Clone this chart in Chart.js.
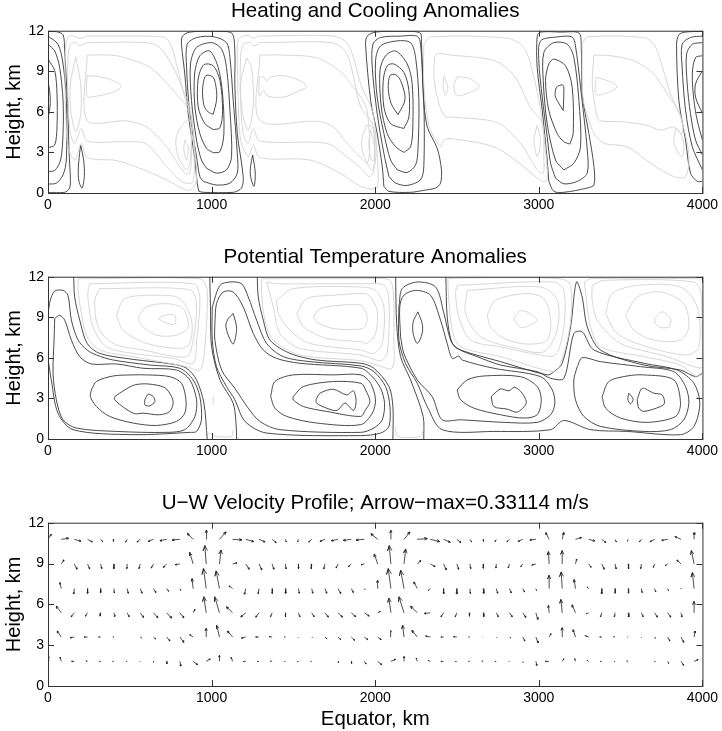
<!DOCTYPE html>
<html>
<head>
<meta charset="utf-8">
<title>Anomalies</title>
<script src="https://cdn.jsdelivr.net/npm/chart.js"></script>
<style>
  html, body { margin:0; padding:0; background:#fff; overflow:hidden; }
  #page { position:relative; width:722px; height:731px; overflow:hidden; }
  canvas { position:absolute; left:0; }
</style>
</head>
<body>
<div id="page">
  <canvas id="heat" width="722" height="224" style="top:-1px"></canvas>
  <canvas id="theta" width="722" height="224" style="top:245px"></canvas>
  <canvas id="wind" width="722" height="241" style="top:491px"></canvas>
</div>
<script>
/* contours are [x km, height km] */

const xTicks = [0, 1000, 2000, 3000, 4000];
const yTicks = [0, 3, 6, 9, 12];

// heating: dark = positive, light = negative
const heatDarkOpen = [
  [[0,.03],[102,.05],[132,.37],[137,.98],[128,3.2],[122,6.1],[112,8.3],[102,10.5],[92,11.7],[51,11.93],[0,11.95]],
  [[0,.66],[51,.73],[92,1.34],[112,2.44],[112,6.85],[92,9.54],[61,11],[0,11.6]],
  [[0,1.6],[41,1.66],[77,2.44],[92,4.4],[92,6.85],[71,9.3],[41,10.5],[0,11]],
  [[0,3.35],[41,3.55],[55,4.9],[55,7.3],[41,9.05],[0,9.9]],
  [[0,5.5],[14,6.6],[10,7.6],[0,8.2]],
  [[4000,11.95],[3897,11.9],[3856,11.7],[3842,11],[3856,6.85],[3897,3.9],[3927,1.47],[3968,.86],[4000,.86]],
  [[4000,11.6],[3927,11.5],[3876,11],[3876,9.3],[3897,6.1],[3938,3.42],[4000,1.71]],
  [[4000,11.12],[3938,11],[3903,10.27],[3907,8.07],[3927,5.87],[3958,3.91],[4000,2.81]],
  [[4000,10.15],[3958,10.02],[3938,8.8],[3948,6.85],[3968,5.38],[4000,3.91]],
  [[4000,9.05],[3958,8.07],[3958,7.09],[4000,5.87]]
];
const heatDarkLoops = [
  [[200,3.52],[218,2.44],[222,1.22],[208,.37],[189,.86],[185,1.7],[193,2.93]],
  [[922,.12],[949,.05],[1132,.05],[1183,.37],[1193,1.22],[1157,4.4],[1142,8.07],[1142,10.5],[1122,11.84],[1010,11.95],[867,11.9],[822,11.6],[816,11],[836,8.8],[857,5.87],[898,2.44],[912,.73]],
  [[949,.86],[1030,.59],[1112,.73],[1157,1.47],[1157,2.93],[1132,6.85],[1112,10.02],[1091,11.12],[1010,11.56],[908,11.49],[851,11],[847,9.29],[867,5.87],[908,2.69],[928,1.22]],
  [[969,1.83],[1030,1.47],[1091,1.71],[1122,2.69],[1112,6.11],[1091,9.29],[1061,10.64],[1000,11.12],[908,10.76],[871,9.54],[877,6.85],[908,3.91],[938,2.44]],
  [[1010,2.98],[1051,3.06],[1075,4.4],[1067,7.33],[1040,9.29],[989,10.5],[928,10.15],[896,8.8],[898,6.36],[928,4.4],[969,3.3]],
  [[1010,4.69],[1051,4.82],[1067,6.11],[1051,8.31],[1010,9.41],[953,9.49],[918,8.44],[918,6.36],[959,5.13]],
  [[1010,5.82],[1030,6.85],[1030,7.58],[1010,8.56],[965,8.68],[945,7.7],[953,6.48],[979,5.99]],
  [[1251,2.81],[1267,1.47],[1259,.49],[1238,1.22],[1238,1.96]],
  [[2053,.49],[2084,.12],[2216,.05],[2297,.2],[2369,.37],[2399,.73],[2405,1.71],[2379,3.3],[2318,4.89],[2293,7.33],[2283,11],[2273,11.84],[2155,11.95],[2002,11.9],[1951,11.6],[1941,11],[1972,6.85],[2012,4.4],[2043,1.96]],
  [[2084,1.22],[2125,.73],[2196,.56],[2277,.98],[2297,1.96],[2297,6.85],[2277,11],[2257,11.6],[2155,11.6],[2033,11.5],[1986,11],[1982,9.3],[2012,5.87],[2053,2.93]],
  [[2135,1.71],[2196,1.52],[2247,2.08],[2261,3.18],[2267,6.85],[2247,10.02],[2216,11.12],[2135,11.25],[2033,10.88],[2002,9.78],[2012,7.09],[2053,4.4],[2094,2.44]],
  [[2175,3],[2216,3.42],[2230,4.89],[2226,8.07],[2196,9.54],[2125,10.5],[2063,10.15],[2029,9.05],[2037,6.36],[2073,4.4],[2125,3.42]],
  [[2175,4.77],[2206,5.62],[2206,7.58],[2175,8.92],[2114,9.54],[2073,9.41],[2049,8.31],[2053,6.36],[2094,5.13]],
  [[2139,5.8],[2175,6.6],[2182,7.2],[2155,8.31],[2125,8.75],[2090,8.68],[2080,7.7],[2098,6.6]],
  [[3061,.86],[3092,.12],[3153,.05],[3296,.37],[3337,.61],[3337,1.96],[3306,4.4],[3265,7.33],[3259,11],[3245,11.84],[3133,11.9],[3011,11.9],[2990,11.6],[2990,9.29],[3021,6.11],[3051,2.44]],
  [[3102,1.1],[3153,.68],[3235,.86],[3296,1.47],[3296,3.18],[3255,7.82],[3224,10.88],[3204,11.54],[3112,11.54],[3011,11.25],[3000,9.78],[3021,7.09],[3051,4.16],[3072,2.2]],
  [[3153,1.71],[3214,2.2],[3255,3.42],[3245,6.85],[3214,10.02],[3174,11],[3092,11.12],[3031,10.4],[3027,8.31],[3051,5.13],[3102,2.44]],
  [[3190,3.62],[3210,4.4],[3204,7.82],[3163,9.41],[3092,9.9],[3061,9.54],[3041,8.31],[3061,6.11],[3112,4.4],[3153,3.79]],
  [[3149,6.1],[3153,7.82],[3145,8],[3108,7.82],[3100,7.2],[3118,6.72]]
];
const heatLightLoops = [
  [[239,11.61],[194,11.44],[143,11.64],[118,11.44],[106,10.5],[106,6.85],[122,3.42],[163,2.44],[204,3.67],[239,2.62],[418,2.4],[561,1.83],[724,.98],[847,.2],[887,.37],[908,.98],[898,3.18],[877,5.62],[836,7.09],[785,9.54],[745,11.12],[704,11.54]],
  [[239,11.12],[194,10.88],[169,11.12],[137,11],[122,10.02],[122,6.85],[137,4.4],[163,3.67],[204,4.77],[239,3.84],[479,3.79],[602,3.62],[724,1.96],[816,.86],[877,.73],[894,1.47],[887,4.4],[867,6.36],[836,7.33],[765,9.29],[683,10.76],[602,11.12]],
  [[239,10.2],[418,10.15],[622,9.29],[765,7.58],[857,6.11],[877,3.42],[867,1.47],[836,1.47],[724,3.42],[602,4.89],[479,5.33],[239,5.38]],
  [[239,8.68],[316,8.6],[398,8.31],[449,7.87],[398,7.46],[296,7.16],[239,7.16]],
  [[169,10.07],[200,8.07],[200,5.87],[169,4.52],[139,6.11],[137,8.07]],
  [[847,5.38],[806,4.77],[781,3.91],[796,2.69],[847,1.71],[867,2.2],[877,4.4],[867,5.38]],
  [[836,3.91],[830,3.18],[847,2.44],[857,3.42]],
  [[1285,11.61],[1255,11.44],[1224,11.64],[1193,11.61],[1163,11.34],[1157,10.24],[1163,6.85],[1177,3.91],[1224,2.69],[1255,3.55],[1295,2.62],[1600,2.44],[1785,1.47],[1913,.49],[2008,.37],[2016,1.96],[2002,4.4],[1982,6.1],[1913,8],[1867,10],[1826,11.12],[1744,11.6]],
  [[1295,11.12],[1259,10.88],[1230,11.12],[1193,11],[1177,10.02],[1177,6.85],[1193,4.4],[1224,3.67],[1255,4.77],[1295,3.84],[1703,3.67],[1826,2.69],[1913,1.83],[1961,1.22],[1988,1.47],[1996,3.42],[1982,5.13],[1911,6.36],[1867,8.6],[1826,10.3],[1744,11.1]],
  [[1295,10.2],[1438,10.2],[1642,10],[1785,9],[1867,7.82],[1940,6.5],[1961,5],[1965,3],[1950,2.2],[1913,2.6],[1826,3.7],[1744,4.9],[1642,5.3],[1295,5.38]],
  [[1214,9.98],[1244,9.29],[1255,6.6],[1224,4.65],[1189,5.87],[1177,8.07]],
  [[1291,8.56],[1291,7.16],[1316,7.58],[1346,7.16],[1438,7.09],[1540,7.58],[1581,7.87],[1540,8.31],[1438,8.68],[1367,8.6],[1336,8.31],[1316,8.6]],
  [[1972,4.65],[1996,3.42],[1992,2.44],[1976,2.44],[1961,3.67]],
  [[1947,5],[1921,4.1],[1921,3.18],[1951,2.2],[1982,1.71],[2002,2.44],[2002,3.9],[1982,4.89]],
  [[2297,11],[2338,11.54],[2807,11.44],[2909,10.76],[2970,8.56],[3011,6.11],[3041,3.18],[3051,1],[3021,.86],[2868,2.33],[2725,3.42],[2461,4.03],[2420,3.9],[2399,3.42],[2328,5],[2297,8.07]],
  [[2363,10],[2359,8.56],[2389,6.6],[2430,5.62],[2461,5.62],[2746,5.2],[2888,3.67],[2990,1.71],[3027,1.47],[3031,2.44],[3020,5.2],[2950,6.3],[2848,8.7],[2725,9.8],[2461,10.2],[2380,10.3]],
  [[2990,5],[2970,3.9],[2990,2.69],[3011,3.9]],
  [[2420,8.68],[2444,7.82],[2430,7.21],[2416,7.82]],
  [[2501,8.6],[2583,8.44],[2634,7.87],[2583,7.46],[2501,7.21],[2481,7.95]],
  [[3265,11],[3296,11.54],[3642,11.49],[3703,11],[3744,9.78],[3805,7.33],[3866,5.62],[3917,2.93],[3897,1.2],[3825,1.22],[3682,2.2],[3540,3.42],[3398,3.67],[3337,4.4],[3316,5],[3270,7]],
  [[3337,10.2],[3438,10.15],[3581,9.78],[3703,8.8],[3785,7.33],[3866,5.75],[3876,4.4],[3825,4.89],[3744,4.65],[3662,5],[3520,5.26],[3377,5.33],[3357,5.62],[3327,8]],
  [[3349,8.56],[3418,8.31],[3479,7.87],[3428,7.46],[3349,7.28]],
  [[3836,4.77],[3825,3.9],[3846,3.06],[3876,2.69],[3886,3.67],[3866,4.4]]
];

// potential temperature
const thetaDarkOpen = [
  [[157,12],[163,10.5],[194,8.79],[239,7.07],[316,6.33],[520,5.89],[765,5.53],[847,5.23],[908,4.37],[953,2.65],[973,0]],
  [[0,9.28],[14,10.26],[41,10.94],[92,10.99],[122,10.63],[143,8.79],[184,7.31],[239,6.58],[296,6.21],[398,5.84],[622,5.47],[806,5.23],[887,4.37],[928,3.14],[938,1.42],[908,.56],[867,.49],[520,.32],[153,.69],[61,1.91],[20,4.37],[0,5.96]],
  [[989,12],[993,9.77],[1000,6.82],[1051,4.37],[1132,2.65],[1149,1.18],[1153,0]],
  [[1279,12],[1285,10.5],[1316,8.79],[1357,7.31],[1479,6.33],[1642,5.84],[1913,5.6],[1992,5.23],[2084,3.88],[2108,2.4],[2108,0]],
  [[2125,12],[2131,8.54],[2155,6.09],[2216,4.37],[2293,1.67],[2297,0]],
  [[2432,12],[2440,9.03],[2471,7.07],[2522,6.58],[2766,5.72],[3051,4.74],[3092,4.98],[3143,5.6],[3194,8.29],[3230,11.61],[3265,10.5],[3296,8.29],[3377,6.58],[3642,5.47],[3866,5.1],[3958,4.61],[4000,4.86]]
];
const thetaDarkLoops = [
  [[41,8.91],[71,9.15],[102,8.79],[143,7.31],[194,6.09],[265,5.55],[418,5.55],[581,5.23],[785,5.1],[867,4.37],[908,2.9],[898,1.67],[836,.69],[724,.49],[418,.56],[173,.81],[92,1.42],[51,2.9],[31,4.86],[37,7.31]],
  [[265,3.63],[296,4.25],[398,4.66],[520,4.74],[602,4.74],[745,4.61],[816,4.12],[843,2.9],[836,1.91],[785,1.3],[663,1],[520,1.18],[377,1.67],[296,2.4],[259,3.14]],
  [[408,3.14],[469,3.63],[530,4],[612,4.07],[714,3.8],[755,3.14],[765,2.65],[745,2.04],[683,1.79],[581,1.91],[530,1.87],[469,2.28],[408,2.9]],
  [[592,2.9],[612,3.31],[643,3.14],[653,2.77],[622,2.45],[592,2.53]],
  [[1132,9.28],[1153,8.17],[1132,7.02],[1102,7.68],[1087,8.42],[1102,8.91]],
  [[1004,9.77],[1051,11.36],[1112,11.61],[1183,11.48],[1224,10.5],[1275,8.79],[1336,7.07],[1438,6.09],[1601,5.72],[1913,5.4],[1992,4.98],[2063,3.88],[2090,2.4],[2084,.93],[2033,.44],[1911,.25],[1336,.44],[1204,1.3],[1142,2.9],[1091,3.88],[1030,5.35],[1004,7.31]],
  [[1020,8.54],[1030,10.01],[1071,10.87],[1132,10.87],[1193,9.77],[1255,7.8],[1316,6.58],[1397,5.96],[1540,5.6],[1913,5.23],[1982,4.61],[2033,3.75],[2057,2.65],[2043,1.42],[1992,.81],[1911,.49],[1418,.69],[1295,1.3],[1224,2.28],[1142,3.75],[1061,5.1],[1020,7.31]],
  [[1361,3.14],[1387,4.25],[1499,4.74],[1744,4.74],[1913,4.74],[1972,4.12],[2002,2.9],[1982,1.91],[1911,1.06],[1642,1.18],[1459,1.67],[1387,2.28]],
  [[1499,3.14],[1561,3.88],[1744,4.25],[1913,4.12],[1941,3.63],[1968,2.77],[1941,2.16],[1911,1.67],[1703,2.04],[1561,2.4],[1499,2.9]],
  [[1638,2.9],[1663,3.39],[1744,3.68],[1826,3.26],[1867,3.56],[1883,2.77],[1867,2.11],[1816,2.65],[1765,2.11],[1703,2.28],[1642,2.65]],
  [[2145,9.77],[2165,11.12],[2257,11.61],[2369,11.24],[2420,9.28],[2461,7.31],[2501,6.7],[2623,6.09],[2766,5.47],[2990,4.98],[3072,4.49],[3153,4.49],[3214,7.8],[3265,7.93],[3337,6.58],[3642,5.6],[3846,5.1],[3948,4.12],[3984,2.65],[3948,.93],[3866,.32],[3540,.56],[3316,.69],[3153,1.37],[3072,.69],[2725,.56],[2409,.69],[2318,2.4],[2257,4.12],[2185,5.6],[2145,7.31]],
  [[2155,7.56],[2150,9.77],[2175,10.63],[2247,10.99],[2338,10.63],[2399,8.79],[2440,7.07],[2471,5.96],[2511,6.13],[2532,5.84],[2725,5.23],[3011,4.61],[3082,3.63],[3098,2.65],[3072,1.79],[2990,1.23],[2786,1.23],[2522,1.42],[2409,1.42],[2348,3.14],[2257,4.37],[2175,6.33]],
  [[2501,3.63],[2562,4.37],[2664,4.66],[2888,4.61],[2990,3.88],[3015,2.9],[2990,1.79],[2909,1.55],[2766,1.79],[2603,2.28],[2522,2.9]],
  [[2709,3.14],[2766,3.7],[2817,3.56],[2852,3.83],[2898,3.39],[2923,2.65],[2868,1.99],[2807,2.21],[2725,2.4]],
  [[2261,9.4],[2287,8.54],[2287,7.8],[2257,7.07],[2232,7.8],[2232,8.66]],
  [[3235,5.35],[3265,6.01],[3377,5.72],[3621,5.35],[3825,4.98],[3897,3.88],[3917,2.65],[3886,1.42],[3805,.69],[3642,.56],[3377,.93],[3275,1.67],[3224,2.9],[3214,4.37]],
  [[3387,3.14],[3428,4.25],[3540,4.66],[3642,4.74],[3825,4.37],[3866,2.65],[3836,1.67],[3662,1.23],[3499,1.55],[3408,2.28]],
  [[3601,2.9],[3632,3.75],[3703,3.39],[3754,3.26],[3768,2.65],[3744,2.4],[3642,2.04],[3611,2.28]],
  [[3550,3.39],[3577,2.94],[3560,2.6],[3544,2.94]]
];
const thetaLightOpen = [
  [[1010,3.14],[1010,2.53]],
  [[979,.44],[1030,.2],[1122,.2],[1132,.69]],
  [[2125,.93],[2135,.2],[2277,.2],[2293,.69]]
];
const thetaLightLoops = [
  [[184,11.85],[928,11.85],[973,10.99],[953,6.09],[928,5.1],[847,5.35],[520,6.09],[316,6.58],[239,7.56],[204,9.28],[184,10.99]],
  [[255,11.48],[887,11.48],[928,10.5],[908,7.31],[887,5.6],[765,5.96],[520,6.33],[357,6.82],[275,8.29],[245,10.26],[245,10.99]],
  [[316,11.12],[867,11.04],[908,10.01],[887,7.31],[847,6.09],[581,6.58],[398,7.07],[306,8.29],[286,10.26]],
  [[418,9.15],[469,10.38],[683,10.63],[806,10.38],[877,8.79],[867,7.07],[806,6.7],[602,7.07],[459,8.05]],
  [[551,9.03],[602,9.77],[724,10.01],[826,9.64],[857,8.29],[785,7.68],[663,7.68],[571,8.42]],
  [[673,8.91],[714,9.15],[775,9.15],[775,8.49],[714,8.61]],
  [[1306,11.85],[1913,11.85],[2084,11.78],[2110,10.99],[2114,7.31],[2104,5.23],[2012,5.47],[1911,5.79],[1540,6.21],[1377,7.31],[1326,8.79],[1306,10.75]],
  [[1336,11.61],[1397,11.48],[1913,11.48],[2053,11.36],[2084,10.26],[2073,6.33],[2033,5.79],[1911,6.21],[1540,6.7],[1418,7.8],[1377,9.77]],
  [[1397,10.26],[1499,11.12],[1913,11.24],[2002,10.99],[2053,9.77],[2043,7.07],[1992,6.33],[1911,6.58],[1601,7.07],[1479,8.05],[1408,9.28]],
  [[1520,9.28],[1581,10.38],[1744,10.63],[1913,10.75],[1961,10.63],[2012,9.52],[2002,7.8],[1951,7.07],[1911,7.19],[1703,7.44],[1561,8.29]],
  [[1622,9.03],[1663,9.64],[1785,9.89],[1913,9.89],[1941,9.4],[1951,8.79],[1921,8.17],[1744,8.17],[1642,8.66]],
  [[2444,11.85],[2522,11.9],[3133,11.85],[3194,11.36],[3190,8.29],[3133,5.6],[3092,4.98],[2766,6.09],[2522,6.82],[2471,8.05],[2450,10.26]],
  [[2501,11.36],[3092,11.61],[3153,10.99],[3153,8.29],[3102,6.21],[3011,6.21],[2766,6.82],[2583,7.31],[2511,9.03],[2491,10.75]],
  [[2562,10.99],[3011,11.24],[3112,10.26],[3112,8.05],[3031,6.45],[2868,6.7],[2644,7.56],[2552,9.28]],
  [[2684,9.15],[2735,10.26],[2929,10.75],[3031,10.38],[3072,8.79],[3051,7.31],[2929,7.02],[2786,7.44],[2705,8.29]],
  [[2844,8.91],[2888,9.47],[2939,9.33],[2990,8.79],[2939,8.37],[2888,8.25]],
  [[3279,11.61],[3316,11.85],[3968,11.85],[4000,11.73],[4000,4.86],[3958,4.66],[3866,5.47],[3642,6.09],[3377,6.82],[3316,8.29],[3291,10.26]],
  [[3326,11.36],[3398,11.73],[3948,11.61],[3992,10.75],[4000,5.35],[3948,5.35],[3785,6.09],[3499,7.07],[3357,8.79],[3326,10.26]],
  [[3408,9.28],[3448,10.75],[3601,11.36],[3866,11.24],[3968,9.77],[3978,6.82],[3907,6.21],[3662,6.82],[3479,7.8]],
  [[3530,9.15],[3601,10.5],[3744,10.87],[3886,10.01],[3917,8.29],[3866,7.31],[3703,7.31],[3581,8.05]],
  [[3707,8.91],[3754,9.4],[3805,8.91],[3795,8.29],[3744,8.25],[3713,8.54]]
];

// velocity field: columns along x, rows of height, u and w in arrow units (55 units = arrow max)
const windX = [0,81,161,242,322,403,484,564,645,725,806,887,967,1048,1128,1209,1290,1370,1451,1531,1612,1693,1773,1854,1934,2015,2096,2176,2257,2337,2418,2499,2579,2660,2740,2821,2902,2982,3063,3143,3224,3305,3385,3466,3546,3627,3708,3788,3869,3949];
const windHeights = [10.78, 8.97, 7.16, 5.38, 3.6, 1.81];
const uRow1 = [10,22,20,14,6,-2,-5,-10,-16,-20,-23,-17,1,20,28,24,18,12,3,-3,-9,-15,-20,-24,-25,-20,0,18,30,28,20,12,5,1,-4,-8,-14,-18,-10,4,18,18,12,4,-2,-6,-14,-18,-18,0];
const wRow1 = [15,3,-6,-8,-7,-7,-8,-8,-6,-4,-2,18,28,22,-2,-7,-8,-10,-8,-8,-8,-6,-4,-3,-2,17,27,22,2,-7,-9,-10,-8,-7,-7,-7,-6,-2,20,20,5,-5,-10,-8,-6,-7,-7,-3,8,20];
const uRow2 = [-4,8,8,6,3,0,-1,-4,-7,-10,-14,-10,-4,5,13,10,8,5,2,0,-2,-4,-6,-9,-10,-10,-5,5,11,14,8,5,2,0,-1,-4,-6,-12,-2,0,4,7,7,3,1,-2,-4,-8,-12,-8];
const wRow2 = [25,12,-16,-15,-14,-14,-14,-14,-12,-10,-2,35,55,42,3,-16,-18,-16,-15,-14,-15,-15,-12,-8,-2,30,55,45,10,-8,-18,-16,-14,-13,-12,-12,-8,-3,37,40,15,-10,-16,-15,-15,-14,-10,-5,12,40];
const uRow3 = [0,-4,-2,0,0,1,3,5,7,6,3,-3,-8,-10,-10,-4,-3,0,1,2,3,5,8,6,2,0,-8,-10,-10,-7,0,0,1,2,4,5,5,2,0,-3,-4,-5,0,0,1,2,3,2,0,-5];
const wRow3 = [0,18,-16,-14,-12,-13,-14,-14,-12,-8,-6,30,60,53,8,-17,-16,-15,-14,-14,-14,-14,-15,-12,-3,25,60,55,20,-6,-16,-16,-15,-14,-14,-13,-10,-6,40,50,27,5,-15,-14,-14,-12,-10,-6,-1,48];
const uRow4 = [0,-15,-10,-7,-2,3,6,10,13,15,12,5,-7,-14,-18,-15,-10,-5,0,4,7,10,13,13,14,8,-6,-15,-20,-18,-8,-5,-2,2,6,8,9,6,-2,-4,-10,-8,-4,-2,2,5,8,9,3,0];
const wRow4 = [0,20,-12,-10,-10,-11,-12,-14,-15,-16,-15,10,48,48,18,-12,-13,-12,-12,-12,-12,-13,-13,-12,-10,4,44,48,20,-2,-12,-12,-11,-11,-12,-12,-14,-20,22,40,24,-3,-12,-12,-12,-12,-13,-13,-12,34];
const uRow5 = [0,-12,-12,-10,-6,-3,0,4,6,10,12,-10,0,-8,-15,-13,-10,-8,-4,-1,2,5,8,10,10,10,0,-4,-16,-14,-8,-10,-4,-1,1,4,6,7,6,0,-7,-10,-6,-4,-2,0,3,6,8,3];
const wRow5 = [0,18,-2,0,0,0,0,-3,-6,-12,-16,7,26,35,18,-3,0,1,0,-1,-2,-5,-8,-10,-8,-8,20,35,20,3,0,1,0,0,-1,-3,-12,-18,10,28,22,4,0,1,0,-1,-4,-12,-16,18];
const uRow6 = [3,-3,-8,-5,-5,-4,-3,-2,0,1,3,13,12,0,-4,-8,-6,-6,-3,-4,-3,0,1,1,5,12,14,0,-3,-7,-8,-5,-4,-4,-4,-2,1,3,-12,5,-2,-5,-5,-3,-4,0,1,3,8,12];
const wRow6 = [15,13,0,2,0,0,0,0,-3,-7,-14,-10,7,18,12,0,0,1,0,0,0,0,-4,-7,-8,-10,6,14,10,3,0,0,0,1,0,0,-3,-12,0,8,8,3,0,0,1,0,-2,-7,-12,5];
const uRows = [uRow1, uRow2, uRow3, uRow4, uRow5, uRow6];
const wRows = [wRow1, wRow2, wRow3, wRow4, wRow5, wRow6];

const DARK = '#383838';
const LIGHT = '#d2d2d2';
const FONT = '"Liberation Sans", Arial, sans-serif';
const KM_PER_UNIT_X = 2.037;   // one arrow unit along x, km
const KM_PER_UNIT_Y = 0.02445; // one arrow unit along height, km

function contourSet(lines, color, closed) {
  return lines.map(pts => {
    const path = closed ? [...pts, pts[0]] : pts;
    return {
      data: path.map(p => ({ x: p[0], y: p[1] })),
      showLine: true, pointRadius: 0, borderColor: color, borderWidth: 0.9, tension: 0.3
    };
  });
}

function arrowSet() {
  const data = [];
  windHeights.forEach((h, r) => {
    windX.forEach((x, i) => {
      const u = uRows[r][i], w = wRows[r][i];
      const len = Math.hypot(u, w);
      if (!len) return;
      const tx = x + u * KM_PER_UNIT_X, ty = h + w * KM_PER_UNIT_Y;
      const back = 0.28, side = 0.12;
      const hx1 = tx + (-u * back - w * side) * KM_PER_UNIT_X, hy1 = ty + (-w * back + u * side) * KM_PER_UNIT_Y;
      const hx2 = tx + (-u * back + w * side) * KM_PER_UNIT_X, hy2 = ty + (-w * back - u * side) * KM_PER_UNIT_Y;
      data.push({ x, y: h }, { x: tx, y: ty }, { x: hx1, y: hy1 }, { x: tx, y: ty }, { x: hx2, y: hy2 }, { x, y: NaN });
    });
  });
  return [{ data, showLine: true, pointRadius: 0, borderColor: '#222', borderWidth: 0.8, tension: 0, spanGaps: false }];
}

// box round the plot, ticks pointing inwards on all four sides
const boxTicks = {
  id: 'boxTicks',
  afterDatasetsDraw(chart) {
    const { ctx, chartArea: a, scales } = chart;
    const t = 6;
    ctx.save();
    ctx.strokeStyle = '#333';
    ctx.lineWidth = 1;
    ctx.strokeRect(a.left + .5, a.top + .5, a.right - a.left, a.bottom - a.top);
    ctx.beginPath();
    xTicks.forEach(v => {
      const p = Math.round(scales.x.getPixelForValue(v)) + .5;
      ctx.moveTo(p, a.top); ctx.lineTo(p, a.top + t);
      ctx.moveTo(p, a.bottom); ctx.lineTo(p, a.bottom - t);
    });
    yTicks.forEach(v => {
      const p = Math.round(scales.y.getPixelForValue(v)) + .5;
      ctx.moveTo(a.left, p); ctx.lineTo(a.left + t, p);
      ctx.moveTo(a.right, p); ctx.lineTo(a.right - t, p);
    });
    ctx.stroke();
    ctx.restore();
  }
};

function makePanel(id, title, datasets, xTitle, axisHeight) {
  return new Chart(document.getElementById(id), {
    type: 'scatter',
    data: { datasets },
    plugins: [boxTicks],
    options: {
      responsive: false,
      animation: false,
      devicePixelRatio: 1,
      layout: { padding: { right: 19, left: 0, top: 0, bottom: 0 } },
      plugins: {
        legend: { display: false },
        tooltip: { enabled: false },
        title: { display: true, fullSize: false, text: title, color: '#000', font: { family: FONT, size: 20.6, weight: 'normal' }, padding: { top: 0, bottom: 7 } }
      },
      scales: {
        x: {
          type: 'linear', min: 0, max: 4000,
          grid: { display: false, drawTicks: false }, border: { display: false },
          afterBuildTicks: s => { s.ticks = xTicks.map(v => ({ value: v })); },
          afterFit: s => { s.height = axisHeight; },
          ticks: { color: '#000', font: { family: FONT, size: 14 }, padding: 4, maxRotation: 0, callback: v => String(v) },
          title: { display: !!xTitle, text: xTitle || '', color: '#000', font: { family: FONT, size: 20.4 }, padding: { top: 0, bottom: 0 } }
        },
        y: {
          type: 'linear', min: 0, max: 12,
          grid: { display: false, drawTicks: false }, border: { display: false },
          afterBuildTicks: s => { s.ticks = yTicks.map(v => ({ value: v })); },
          afterFit: s => { s.width = 48; },
          ticks: { color: '#000', font: { family: FONT, size: 14 }, padding: 4 },
          title: { display: true, text: 'Height, km', color: '#000', font: { family: FONT, size: 20 }, padding: { top: 2, bottom: 0 } }
        }
      }
    }
  });
}

makePanel('heat', 'Heating and Cooling Anomalies', [
  ...contourSet(heatLightLoops, LIGHT, true),
  ...contourSet(heatDarkOpen, DARK, false),
  ...contourSet(heatDarkLoops, DARK, true)
], '', 30);

makePanel('theta', 'Potential Temperature Anomalies', [
  ...contourSet(thetaLightLoops, LIGHT, true),
  ...contourSet(thetaLightOpen, LIGHT, false),
  ...contourSet(thetaDarkOpen, DARK, false),
  ...contourSet(thetaDarkLoops, DARK, true)
], '', 30);

makePanel('wind', 'U\u2212W Velocity Profile; Arrow\u2212max=0.33114 m/s', arrowSet(), 'Equator, km', 46);
</script>
</body>
</html>
